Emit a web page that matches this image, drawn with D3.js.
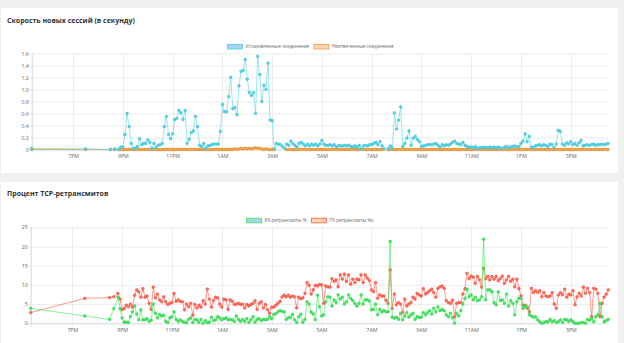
<!DOCTYPE html>
<html><head><meta charset="utf-8">
<script src="https://cdn.jsdelivr.net/npm/d3@7"></script>
<style>
body{margin:0;background:#f0f0f0;overflow:hidden;}
text{font-family:"Open Sans","Liberation Sans",sans-serif;}
</style>
</head><body>
<svg id="c" width="624" height="343"></svg>
<script>
// ---------------- DATA ----------------
const sparseTimes = ["17:20","19:30","20:30","20:40"];
const denseStart = "20:50";
const denseStepMin = 5;

// Установленные соединения (per second)
const estab = [
 0.02,0.01,0,0.01,
 0,0.04,
 0.04,0.25,0.6,0.38,0.1,0.02,0.02,0.05,0.18,0.08,0.1,0.1,
 0.16,0.12,0.02,0.1,0.03,0.07,0.08,0.1,0.38,0.55,0.25,0.18,
 0.26,0.5,0.52,0.65,0.61,0.5,0.65,0.1,0.17,0.28,0.31,0.55,
 0.38,0.07,0.05,0.1,0.02,0.06,0.07,0.08,0.09,0.09,0.09,0.3,
 0.75,0.63,0.63,0.88,1.2,0.68,0.7,0.58,1.06,1.3,1.32,1.5,
 1.17,0.95,0.9,0.95,0.6,1.55,1.25,0.8,1.07,1.0,1.44,0.49,
 0.48,0.01,0.1,0.09,0.08,0.05,0.02,0.09,0.07,0.14,0.1,0.07,
 0.04,0.1,0.12,0.09,0.06,0.09,0.06,0.09,0.07,0.09,0.06,0.09,
 0.15,0.09,0.07,0.07,0.08,0.06,0.08,0.04,0.07,0.06,0.06,0.07,
 0.06,0.07,0.05,0.04,0.06,0.04,0.07,0.01,0.06,0.07,0.06,0.08,
 0.08,0.1,0.12,0.08,0.13,0.06,0.01,null,0.02,0.06,0.02,0.61,
 0.34,0.49,0.71,0.05,0.1,0.19,0.31,0.07,0.19,0.22,0.17,0.13,
 0.05,0.06,0.07,0.08,0.08,0.08,0.09,0.1,0.07,0.04,0.08,0.06,
 0.08,0.07,0.09,0.12,0.14,0.1,0.09,0.08,0.12,0.07,0.05,0.04,
 0.04,0.03,0.05,0.02,0.03,0.03,0.04,0.03,0.03,0.04,0.03,0.04,
 0.03,0.04,0.03,0.01,0.04,0.05,0.03,0.04,0.05,0.06,0.04,0.05,
 0.1,0.14,0.26,0.13,0.22,0.04,0.03,0.06,0.07,0.08,0.06,0.08,
 0.07,0.05,0.09,0.08,0.03,0.09,0.32,0.3,0.09,0.07,0.11,0.09,
 0.13,0.08,0.1,0.07,0.11,0.15,0.06,0.07,0.08,0.07,0.08,0.09,
 0.07,0.08,0.08,0.09,0.08,0.09,0.1
];

// Неотвеченные соединения
const unans = [
 0,0,0,0,
 0,0,
 0,0,0,0,0,0,0,0,0,0,0,0,
 0,0,0,0,0,0,0,0,0,0,0,0,
 0,0,0,0,0,0,0,0,0,0,0,0,
 0,0,0,0,0,0,0,0,0,0,0,0,
 0,0,0,0,0,0,0.01,0,0.01,0.02,0.01,0.02,
 0.01,0.02,0.01,0.02,0.03,0.02,0.02,0.01,0,0.01,0,0,
 0,0,null,null,null,null,null,0,0,0,0,0,
 0,0,0,0,0,0,0,0,0,0,0,0,
 0,0,0,0,0,0,0,0,0,0,0,0,
 0,0,0,0,0,0,0,0,0,0,0,0,
 0,0,0,0,0,0,null,null,0,0,0,0,
 0,0,0,0,0,0,0,0,0,0,0,0,
 0,0,0,0,0,0,0,0,0,0,0,0,
 0,0,0,0,0,0,0,0,0,0,0,0,
 0,0,0,0,0,0,0,0,0,0,0,0,
 0,0,0,0,0,0,0,0,0,0,0,0,
 0,0,0,0,0,0,0,0,0,0,0,0,
 0,0,0,0,0,0,0,0,0,0,0,0,
 0,0,0,0,0,0,0,0,0,0,0,0,
 0,0,0,0,0,0,0
];

// RX-ретрансмиты %
const rxPct = [
 3.9,1.9,1.0,3.8,
 6.8,3.8,
 1.4,0.3,0.3,0.2,1.7,3.0,4.5,2.4,0.9,3.5,0.9,0.9,
 1.2,0.5,0.8,5.0,2.6,1.4,2.3,1.9,2.1,0.5,0.2,1.4,
 1.7,3.0,1.0,0.5,0.9,0.5,0.2,0.2,1.0,1.4,0.2,1.0,
 0.9,0.3,1.0,0,0.7,0.2,0.3,1.6,0.7,0.9,1.7,1.4,
 0.9,1.2,1.4,0.9,1.0,0.9,0.5,1.9,1.0,0.5,1.0,0.5,
 1.2,0.2,0.9,1.7,0.3,1.0,1.2,0.7,1.0,0.9,1.0,1.7,
 1.2,2.3,2.5,3.0,3.3,3.1,3.0,1.0,1.5,1.5,2.3,0.9,
 0.2,1.7,2.4,0.3,1.0,5.6,5.0,2.9,2.4,0.9,7.3,4.3,
 1.9,2.2,5.6,6.9,6.8,4.5,6.1,5.4,7.4,6.3,6.8,5.0,
 5.6,7.4,6.5,5.9,5.2,4.5,5.2,7.4,5.0,6.1,6.1,5.8,
 3.5,3.6,5.0,2.2,3.6,3.0,3.3,3.0,3.0,21.3,1.6,1.3,
 1.6,1.0,2.6,0.9,1.9,2.8,1.6,2.2,2.6,1.0,1.7,1.5,
 1.6,2.8,2.2,2.8,3.3,2.4,3.9,3.0,4.3,3.3,3.6,3.3,
 2.2,1.7,2.6,1.5,0,2.6,1.9,3.3,5.0,6.5,8.9,6.9,
 7.4,6.1,6.8,5.9,6.1,6.9,21.9,6.1,8.7,8.7,8.2,5.4,
 4.8,8.2,5.9,6.1,5.2,7.6,4.5,5.9,5.2,2.2,5.6,6.5,
 6.5,3.9,4.5,4.3,2.2,1.9,1.6,1.7,0.9,0.4,0,0.2,
 0.4,0.4,1.0,0.4,0.7,0.2,0.4,0.9,0.2,1.0,0.9,0.5,
 0.9,0.4,0,0,0,0.2,0.2,0,1.0,0.8,1.3,0.4,
 1.7,2.2,5.2,1.7,0.4,0.7,1.0
];

// TX-ретрансмиты %s
const txPct = [
 2.8,6.5,6.7,6.9,
 7.8,6.3,
 3.6,3.8,4.7,4.3,5.0,4.2,7.3,8.7,8.2,6.8,9.0,6.8,
 7.1,5.2,3.6,9.4,6.6,7.6,6.1,5.6,6.9,5.6,4.9,5.2,
 5.4,7.8,5.7,6.1,5.7,5.6,3.5,5.0,4.3,5.2,2.1,4.9,
 4.0,4.7,4.2,5.9,5.0,8.9,6.3,4.2,5.9,6.8,6.6,5.0,
 4.2,6.3,6.1,3.6,6.1,5.7,4.9,5.0,5.2,4.9,5.0,4.0,
 4.9,4.5,4.9,5.2,5.9,3.6,5.2,5.6,4.0,4.9,3.5,2.6,
 4.2,4.2,4.7,5.2,5.7,6.9,7.3,6.9,7.3,6.8,7.1,6.9,
 4.0,6.8,6.4,6.6,7.8,10.6,9.9,7.6,8.7,9.9,9.7,10.1,
 10.0,5.2,9.7,9.5,9.4,11.6,10.9,11.3,9.5,12.6,11.5,12.8,
 10.9,12.6,10.2,11.5,10.6,11.5,11.3,12.6,10.6,12.6,11.8,11.1,
 8.7,8.2,10.6,6.5,7.4,7.1,7.1,6.0,5.2,13.9,3.9,7.6,
 4.8,5.4,5.0,2.8,6.3,4.5,5.0,5.4,6.8,6.3,7.8,7.4,
 7.1,9.0,7.6,8.0,8.5,8.9,8.0,6.8,9.1,9.5,9.7,9.1,
 5.9,5.4,5.2,6.0,1.7,5.2,5.4,5.4,7.6,9.0,13.0,11.6,
 12.3,12.0,10.4,12.2,11.3,9.4,14.3,11.6,12.2,11.3,12.2,11.5,
 12.2,11.1,11.6,12.3,10.4,11.3,12.2,10.9,11.5,9.5,11.5,9.0,
 7.1,4.7,4.7,3.9,3.0,9.1,8.0,8.5,8.0,8.5,6.9,8.0,
 7.1,6.9,7.1,8.0,5.0,3.9,7.4,8.0,7.4,8.9,6.8,7.6,
 7.4,8.5,4.8,6.9,7.8,7.1,9.4,7.8,9.1,8.0,1.7,9.1,
 8.9,7.8,1.7,5.2,6.8,7.6,8.7
];

const xTickLabels = ["7PM","9PM","11PM","1AM","3AM","5AM","7AM","9AM","11AM","1PM","3PM"];
const yTicksTop = [0,0.2,0.4,0.6,0.8,1.0,1.2,1.4,1.6];
const yTicksBottom = [0,5,10,15,20,25];

const titles = ["Скорость новых сессий (в секунду)", "Процент TCP-ретрансмитов"];
const legendTop = ["Установленные соединения", "Неотвеченные соединения"];
const legendBottom = ["RX-ретрансмиты %", "TX-ретрансмиты %s"];

// ---------------- TIME AXIS ----------------
const day1 = new Date(2024,0,1);
function atTime(hm){
  const [h,m] = hm.split(":").map(Number);
  const d = new Date(day1); d.setHours(h,m,0,0);
  if (h < 17) d.setDate(d.getDate()+1);
  return d;
}
const times = sparseTimes.map(atTime);
{
  const t0 = atTime(denseStart);
  for (let i = 0; times.length < estab.length; i++) times.push(d3.timeMinute.offset(t0, i*denseStepMin));
}
function labelToDate(lbl){
  let h = parseInt(lbl); const pm = lbl.endsWith("PM");
  if (pm && h !== 12) h += 12; if (!pm && h === 12) h = 0;
  return atTime(h + ":00");
}
const xTickDates = xTickLabels.map(labelToDate);

// ---------------- DRAW ----------------
const svg = d3.select("#c");
svg.append("rect").attr("width",624).attr("height",343).attr("fill","#f0f0f0");
svg.append("rect").attr("x",1).attr("y",8).attr("width",617).attr("height",165).attr("fill","#fff");
svg.append("rect").attr("x",1).attr("y",182).attr("width",617).attr("height",161).attr("fill","#fff");

function drawChart(o){
  const g = svg.append("g");
  g.append("text").attr("x",7).attr("y",o.titleY).attr("font-size",7).attr("font-weight",700)
    .attr("fill","#333").text(o.title);

  const x = d3.scaleTime().domain(d3.extent(times)).range([o.x0,o.x1]);
  const y = d3.scaleLinear().domain([0,o.yMax]).range([o.y1,o.y0]);

  // grid
  const grid = g.append("g");
  grid.selectAll(".hy").data(o.yTicks).join("line")
    .attr("x1",o.x0-3).attr("x2",o.x1).attr("y1",d=>y(d)+0.5).attr("y2",d=>y(d)+0.5)
    .attr("stroke",d=>d===0?"#d8d8d8":"#ececec").attr("stroke-width",1);
  grid.selectAll(".vx").data(xTickDates).join("line")
    .attr("x1",d=>Math.round(x(d))+0.5).attr("x2",d=>Math.round(x(d))+0.5)
    .attr("y1",o.y0).attr("y2",o.y1+3)
    .attr("stroke","#ececec").attr("stroke-width",1);
  grid.append("line").attr("x1",o.x0+0.5).attr("x2",o.x0+0.5).attr("y1",o.y0).attr("y2",o.y1+3)
    .attr("stroke","#d8d8d8");

  // axis labels via d3 axes
  const yAxis = d3.axisLeft(y).tickValues(o.yTicks).tickSize(0).tickPadding(3).tickFormat(o.yFmt);
  const ya = g.append("g").attr("transform",`translate(${o.x0},0)`).call(yAxis);
  ya.select(".domain").remove();
  ya.selectAll("text").attr("font-size",5.2).attr("fill","#666").attr("font-family","'Open Sans',sans-serif");
  const xAxis = d3.axisBottom(x).tickValues(xTickDates).tickSize(0).tickPadding(5)
    .tickFormat((d,i)=>xTickLabels[i]);
  const xa = g.append("g").attr("transform",`translate(0,${o.y1})`).call(xAxis);
  xa.select(".domain").remove();
  xa.selectAll("text").attr("font-size",5.2).attr("fill","#666").attr("font-family","'Open Sans',sans-serif");

  // series (draw last dataset first so dataset 0 is on top)
  const data = o.series.map(s => times.map((t,i)=>({t, v:s.values[i]})));
  for (let k = o.series.length-1; k >= 0; k--){
    const s = o.series[k], d = data[k];
    const line = d3.line().defined(p=>p.v!=null).x(p=>x(p.t)).y(p=>y(p.v));
    g.append("path").attr("d",line(d)).attr("fill","none")
      .attr("stroke",s.line).attr("stroke-width",1).attr("stroke-linejoin","round");
    g.append("g").selectAll("circle").data(d.filter(p=>p.v!=null)).join("circle")
      .attr("cx",p=>x(p.t)).attr("cy",p=>y(p.v)).attr("r",1.4)
      .attr("fill",s.point).attr("stroke",s.pointStroke).attr("stroke-width",0.5);
  }

  // legend centred
  const lg = g.append("g");
  const fs = 4.6, boxW = 15, boxH = 4.5, gapBT = 3, gapItems = 5;
  const items = o.series.map(s=>{
    const t = lg.append("text").attr("font-size",fs).attr("fill","#666").text(s.label);
    return {s, t, w: t.node().getComputedTextLength()};
  });
  const total = d3.sum(items, it=>boxW+gapBT+it.w) + gapItems*(items.length-1);
  let cx = o.legendCx - total/2;
  items.forEach(it=>{
    lg.append("rect").attr("x",cx).attr("y",o.legendY-boxH/2).attr("width",boxW).attr("height",boxH)
      .attr("fill",it.s.legFill).attr("stroke",it.s.legStroke).attr("stroke-width",1);
    it.t.attr("x",cx+boxW+gapBT).attr("y",o.legendY).attr("dy","0.35em");
    cx += boxW+gapBT+it.w+gapItems;
  });
}

drawChart({
  title: titles[0], titleY: 23,
  x0: 31.7, x1: 608, y0: 53.5, y1: 149.5, yMax: 1.6,
  yTicks: yTicksTop, yFmt: d=> d===0 ? "0" : d3.format(".1f")(d),
  legendY: 46.7, legendCx: 310.5,
  series: [
    {label: legendTop[0], values: estab, line:"rgba(80,215,230,0.6)", point:"#55cfe3", pointStroke:"#42c2d9",
     legFill:"#a6d2f4", legStroke:"#5fd3e6"},
    {label: legendTop[1], values: unans, line:"#f3aa5a", point:"#f0a24b", pointStroke:"#e38e32",
     legFill:"#fdd7ad", legStroke:"#f2a65a"}
  ]
});

drawChart({
  title: titles[1], titleY: 196,
  x0: 30.7, x1: 608.3, y0: 227.3, y1: 323.3, yMax: 25,
  yTicks: yTicksBottom, yFmt: d=>String(d),
  legendY: 220.5, legendCx: 310,
  series: [
    {label: legendBottom[0], values: rxPct, line:"rgba(70,230,90,0.65)", point:"#46e362", pointStroke:"#33d04f",
     legFill:"#a6d2f4", legStroke:"#55e86a"},
    {label: legendBottom[1], values: txPct, line:"rgba(255,95,75,0.65)", point:"#ff6b59", pointStroke:"#f24e3e",
     legFill:"#fdd7ad", legStroke:"#ff7058"}
  ]
});
</script>
</body></html>
